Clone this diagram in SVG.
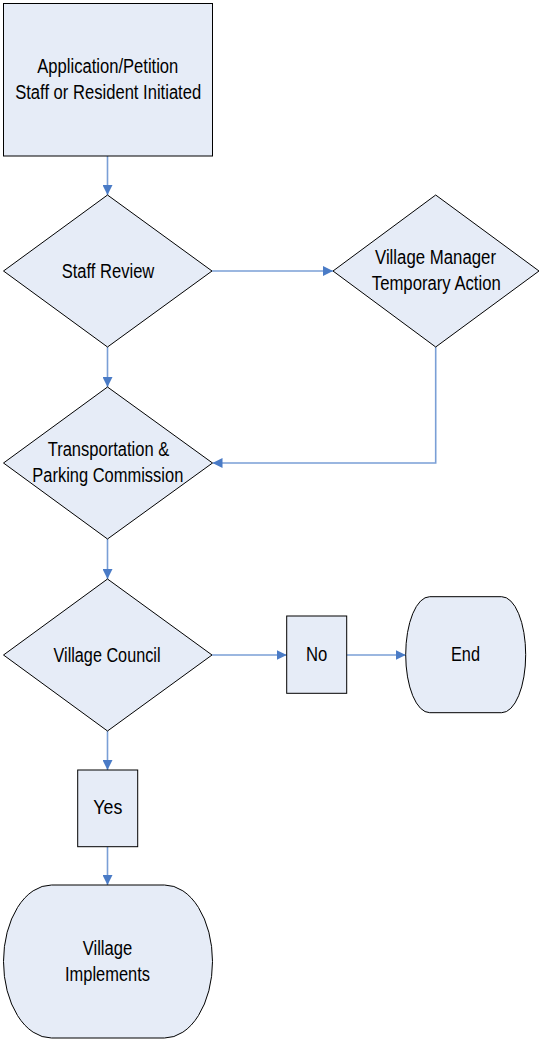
<svg xmlns="http://www.w3.org/2000/svg" width="540" height="1040" viewBox="0 0 540 1040">
<style>
.n{fill:#E6ECF7;stroke:#000;stroke-width:1}
.t{font-family:"Liberation Sans Narrow","Liberation Sans",Arial,sans-serif;font-size:20px;fill:#000;text-anchor:middle}
.c{fill:none;stroke:#7A9FD6;stroke-width:1.6}
</style>
<defs>
<marker id="ah" markerWidth="10" markerHeight="10" viewBox="0 0 10 10" refX="10" refY="5" orient="auto" markerUnits="userSpaceOnUse">
<path d="M0,0 L10,5 L0,10 Z" fill="#4A7BC6"/>
</marker>
</defs>
<rect width="540" height="1040" fill="#fff"/>
<g id="connectors">
<path class="c" d="M107.5,156 L107.5,195" marker-end="url(#ah)"/>
<path class="c" d="M212,271 L333,271" marker-end="url(#ah)"/>
<path class="c" d="M107.5,347 L107.5,387" marker-end="url(#ah)"/>
<path class="c" d="M435.7,347 L435.7,463 L212.5,463" marker-end="url(#ah)"/>
<path class="c" d="M107.5,539 L107.5,579" marker-end="url(#ah)"/>
<path class="c" d="M212,655 L286.7,655" marker-end="url(#ah)"/>
<path class="c" d="M346.7,655 L405.7,655" marker-end="url(#ah)"/>
<path class="c" d="M107.5,731 L107.5,770" marker-end="url(#ah)"/>
<path class="c" d="M107.5,846.7 L107.5,885" marker-end="url(#ah)"/>
</g>
<g id="application">
<rect class="n" x="3.5" y="3.5" width="209" height="152.5"/>
<text class="t" x="107.8" y="72.7" textLength="141" lengthAdjust="spacingAndGlyphs">Application/Petition</text>
<text class="t" x="108.2" y="99.3" textLength="186" lengthAdjust="spacingAndGlyphs">Staff or Resident Initiated</text>
</g>
<g id="staff-review">
<polygon class="n" points="107.5,195 212,271 107.5,347 3.5,271"/>
<text class="t" x="108" y="277.5" textLength="92.6" lengthAdjust="spacingAndGlyphs">Staff Review</text>
</g>
<g id="village-manager">
<polygon class="n" points="435.7,195 539,271 435.7,347 333,271"/>
<text class="t" x="435.5" y="264" textLength="121" lengthAdjust="spacingAndGlyphs">Village Manager</text>
<text class="t" x="436.3" y="290" textLength="129" lengthAdjust="spacingAndGlyphs">Temporary Action</text>
</g>
<g id="transportation">
<polygon class="n" points="107.5,387 212.5,463 107.5,539 3.5,463"/>
<text class="t" x="108.5" y="456" textLength="121.6" lengthAdjust="spacingAndGlyphs">Transportation &amp;</text>
<text class="t" x="107.8" y="481.5" textLength="151" lengthAdjust="spacingAndGlyphs">Parking Commission</text>
</g>
<g id="village-council">
<polygon class="n" points="107.5,579 212,655 107.5,731 3.5,655"/>
<text class="t" x="107" y="661.5" textLength="107" lengthAdjust="spacingAndGlyphs">Village Council</text>
</g>
<g id="no">
<rect class="n" x="286.7" y="616" width="60" height="77.3"/>
<text class="t" x="316.7" y="661" textLength="21.3" lengthAdjust="spacingAndGlyphs">No</text>
</g>
<g id="end">
<rect class="n" x="405.7" y="596.7" width="120" height="116" rx="24" ry="58"/>
<text class="t" x="465.5" y="661" textLength="29" lengthAdjust="spacingAndGlyphs">End</text>
</g>
<g id="yes">
<rect class="n" x="77.7" y="770" width="60" height="76.7"/>
<text class="t" x="107.8" y="814" textLength="29" lengthAdjust="spacingAndGlyphs">Yes</text>
</g>
<g id="village-implements">
<rect class="n" x="3.5" y="885" width="209" height="153" rx="48" ry="76.5"/>
<text class="t" x="107.5" y="955" textLength="49.6" lengthAdjust="spacingAndGlyphs">Village</text>
<text class="t" x="107.5" y="980.5" textLength="85" lengthAdjust="spacingAndGlyphs">Implements</text>
</g>
</svg>
